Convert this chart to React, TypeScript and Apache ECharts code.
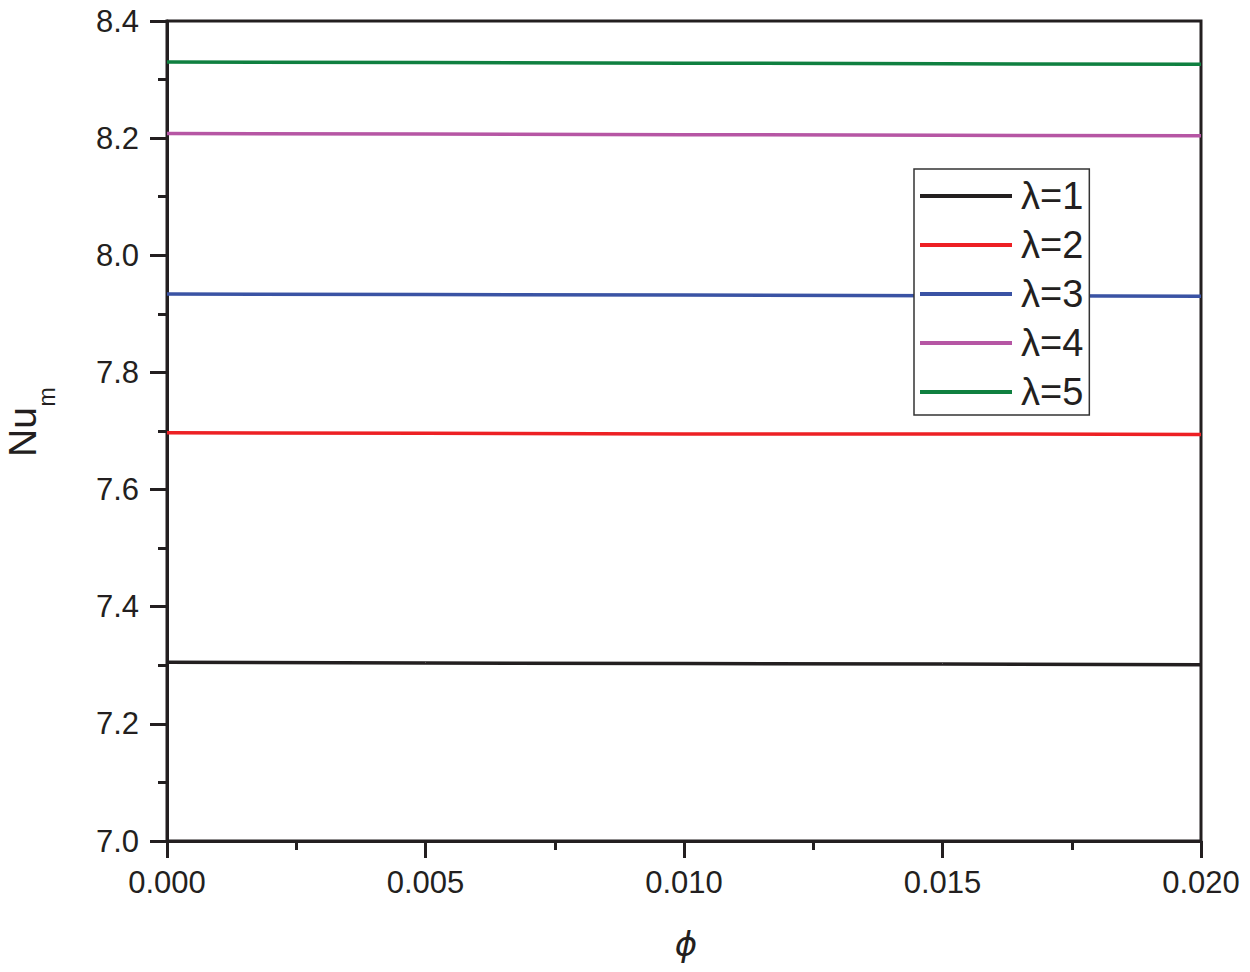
import React, { useEffect, useRef } from "react";
import * as echarts from "echarts";

const phiValues = [0, 0.005, 0.01, 0.015, 0.02];
const seriesNames = ["λ=1", "λ=2", "λ=3", "λ=4", "λ=5"];
const lambda1 = [7.305, 7.304, 7.303, 7.302, 7.301];
const lambda2 = [7.697, 7.696, 7.695, 7.695, 7.694];
const lambda3 = [7.934, 7.933, 7.932, 7.931, 7.930];
const lambda4 = [8.208, 8.207, 8.206, 8.205, 8.204];
const lambda5 = [8.330, 8.329, 8.328, 8.327, 8.326];
const seriesColors = ["#231f20", "#ed2024", "#3a53a4", "#b656a4", "#0f8040"];
const yTicks = { min: 7.0, max: 8.4, interval: 0.2 };
const xTicks = { min: 0, max: 0.02, interval: 0.005 };

const FONT = "'Liberation Sans', Arial, sans-serif";
const INK = "#231f20";

export default function App() {
  const ref = useRef<HTMLDivElement>(null);
  useEffect(() => {
    if (!ref.current) return;
    const chart = echarts.init(ref.current, null, { renderer: "svg" });
    const all = [lambda1, lambda2, lambda3, lambda4, lambda5];
    chart.setOption({
      animation: false,
      backgroundColor: "#ffffff",
      grid: {
        left: 167,
        right: 49,
        top: 21,
        bottom: 131,
        show: true,
        borderColor: INK,
        borderWidth: 3,
        backgroundColor: "transparent",
      },
      xAxis: {
        type: "value",
        min: xTicks.min,
        max: xTicks.max,
        interval: xTicks.interval,
        axisLine: { show: true, onZero: false, lineStyle: { color: INK, width: 3 } },
        axisTick: { show: true, inside: false, length: 17, lineStyle: { color: INK, width: 3 } },
        minorTick: { show: true, splitNumber: 2, length: 9, lineStyle: { color: INK, width: 3 } },
        splitLine: { show: false },
        axisLabel: {
          fontFamily: FONT,
          fontSize: 31,
          color: INK,
          margin: 26,
          formatter: (v: number) => v.toFixed(3),
        },
      },
      yAxis: {
        type: "value",
        min: yTicks.min,
        max: yTicks.max,
        interval: yTicks.interval,
        axisLine: { show: true, onZero: false, lineStyle: { color: INK, width: 3 } },
        axisTick: { show: true, inside: false, length: 17, lineStyle: { color: INK, width: 3 } },
        minorTick: { show: true, splitNumber: 2, length: 9, lineStyle: { color: INK, width: 3 } },
        splitLine: { show: false },
        axisLabel: {
          fontFamily: FONT,
          fontSize: 31,
          color: INK,
          margin: 28,
          formatter: (v: number) => v.toFixed(1),
        },
      },
      legend: {
        show: true,
        orient: "vertical",
        left: 914,
        top: 169,
        padding: [8, 6, 4, 6],
        itemGap: 11,
        itemWidth: 92,
        itemHeight: 4,
        icon: "rect",
        borderColor: "#333333",
        borderWidth: 1.5,
        backgroundColor: "#ffffff",
        textStyle: { fontFamily: FONT, fontSize: 38, color: INK, padding: [0, 0, 0, 4] },
        data: seriesNames,
      },
      graphic: [
        {
          type: "text",
          x: 22,
          y: 432,
          rotation: Math.PI / 2,
          style: {
            text: "Nu",
            fontFamily: FONT,
            fontSize: 39,
            fill: INK,
            align: "center",
            verticalAlign: "middle",
          },
        },
        {
          type: "text",
          x: 47,
          y: 397,
          rotation: Math.PI / 2,
          style: {
            text: "m",
            fontFamily: FONT,
            fontSize: 23,
            fill: INK,
            align: "center",
            verticalAlign: "middle",
          },
        },
        {
          type: "text",
          x: 686,
          y: 944,
          style: {
            text: "ϕ",
            fontFamily: "'DejaVu Sans', sans-serif",
            fontStyle: "italic",
            fontSize: 34,
            fill: INK,
            align: "center",
            verticalAlign: "middle",
          },
        },
      ],
      series: seriesNames.map((name, i) => ({
        name,
        type: "line",
        data: phiValues.map((x, j) => [x, all[i][j]]),
        showSymbol: false,
        symbol: "none",
        lineStyle: { color: seriesColors[i], width: 3.5 },
        itemStyle: { color: seriesColors[i] },
        z: 1,
      })),
    });
    return () => chart.dispose();
  }, []);
  return (
    <div
      ref={ref}
      style={{ position: "absolute", left: 0, top: 0, width: 1250, height: 972 }}
    />
  );
}
